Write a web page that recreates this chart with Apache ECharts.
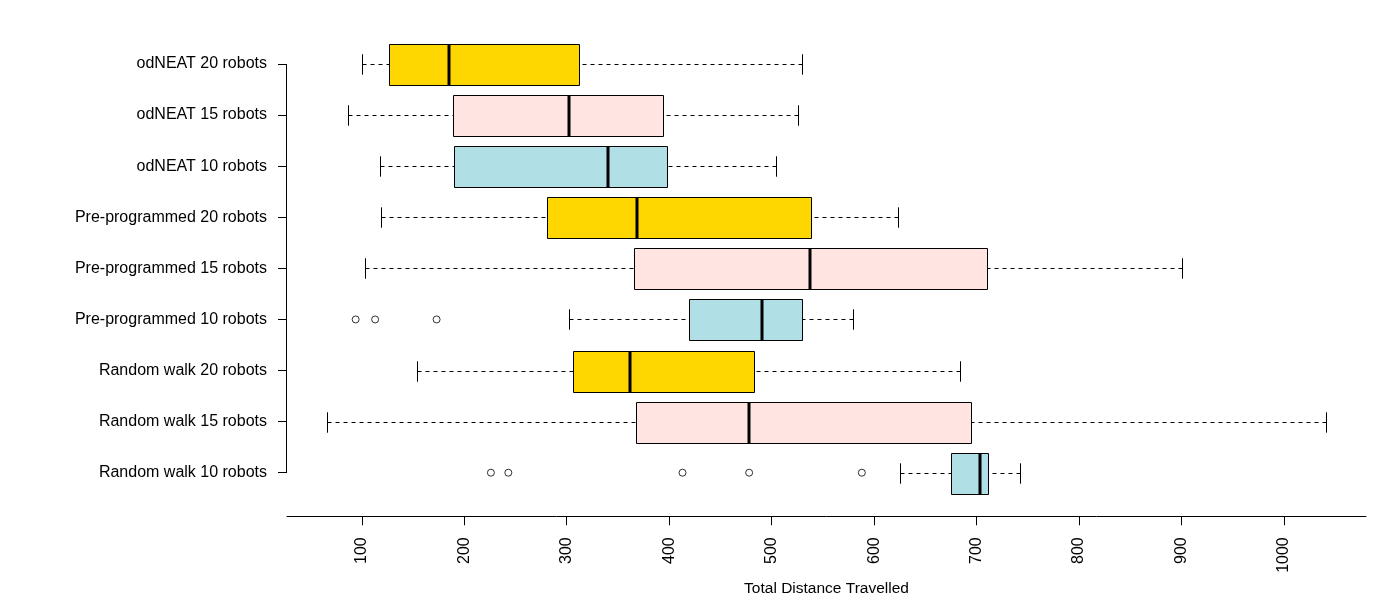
<!DOCTYPE html>
<html><head><meta charset="utf-8">
<script src="https://cdn.jsdelivr.net/npm/echarts@6/dist/echarts.min.js"></script>
<style>html,body{margin:0;padding:0;background:#fff}#c{width:1387px;height:613px}</style>
</head><body><div id="c"></div>
<script>
// Categories, bottom to top
const categories = ['Random walk 10 robots', 'Random walk 15 robots', 'Random walk 20 robots',
  'Pre-programmed 10 robots', 'Pre-programmed 15 robots', 'Pre-programmed 20 robots',
  'odNEAT 10 robots', 'odNEAT 15 robots', 'odNEAT 20 robots'];
const lowWhisker  = [625,  66, 154, 302, 103, 119, 118,  87, 100];
const lowerQuart  = [675, 368, 306, 419, 366, 281, 190, 189, 127];
const medians     = [703, 478, 362, 491, 537, 369, 340, 302, 185];
const upperQuart  = [711, 695, 483, 530, 710, 538, 398, 394, 312];
const highWhisker = [742,1041, 684, 579, 900, 623, 504, 526, 530];
// outliers: value and category index
const outlierValues = [226, 243, 413, 478, 588, 94, 113, 173];
const outlierGroups = [0, 0, 0, 0, 0, 3, 3, 3];
const boxColors = ['#B0E0E6', '#FFE4E1', '#FFD700'];
const xTicks = [100, 200, 300, 400, 500, 600, 700, 800, 900, 1000];
const xTitle = 'Total Distance Travelled';

const allVals = lowWhisker.concat(highWhisker, outlierValues);
const dMin = Math.min.apply(null, allVals), dMax = Math.max.apply(null, allVals);
const ext = (dMax - dMin) * 0.04;
const xMin = dMin - ext, xMax = dMax + ext;

const boxData = categories.map((c, i) => [i, lowWhisker[i], lowerQuart[i], medians[i], upperQuart[i], highWhisker[i]]);
const outData = outlierValues.map((v, i) => [v, outlierGroups[i]]);

const FONT = 'Liberation Sans, Arial, sans-serif';
const chart = echarts.init(document.getElementById('c'), null, {renderer: 'canvas'});
const R = v => Math.round(v) + 0.5;

chart.setOption({
  animation: false,
  backgroundColor: '#fff',
  grid: {left: 287, right: 21, top: 38.45, bottom: 114.75, containLabel: false},
  xAxis: {
    type: 'value', min: xMin, max: xMax, offset: 18,
    axisLine: {show: true, lineStyle: {color: '#000', width: 1}},
    axisTick: {show: true, length: 9, customValues: xTicks, lineStyle: {color: '#000'}},
    axisLabel: {customValues: xTicks, rotate: 90, margin: 21, fontSize: 16, color: '#000', fontFamily: FONT,
      formatter: v => String(v)},
    splitLine: {show: false},
    name: xTitle, nameLocation: 'middle', nameGap: 52,
    nameTextStyle: {fontSize: 15.5, color: '#000', fontFamily: FONT}
  },
  yAxis: {
    type: 'category', data: categories,
    axisLine: {show: false},
    axisTick: {show: true, alignWithLabel: true, length: 9, lineStyle: {color: '#000'}},
    axisLabel: {margin: 20, fontSize: 16, color: '#000', fontFamily: FONT, padding: [3, 0, 0, 0]},
    splitLine: {show: false}
  },
  series: [
    {
      type: 'custom',
      data: [[0], [categories.length - 1]],
      renderItem: function (params, api) {
        if (params.dataIndex !== 0) return null;
        const a = api.coord([xMin, 0]);
        const b = api.coord([xMin, categories.length - 1]);
        return {type: 'line', shape: {x1: R(a[0]) - 1, y1: a[1], x2: R(a[0]) - 1, y2: b[1]},
          style: {stroke: '#000', lineWidth: 1}};
      },
      encode: {y: 0}
    },
    {
      type: 'custom',
      data: boxData,
      encode: {y: 0, x: [1, 2, 3, 4, 5]},
      renderItem: function (params, api) {
        const ci = api.value(0);
        const pLo = api.coord([api.value(1), ci]);
        const pQ1 = api.coord([api.value(2), ci]);
        const pMed = api.coord([api.value(3), ci]);
        const pQ3 = api.coord([api.value(4), ci]);
        const pHi = api.coord([api.value(5), ci]);
        const band = api.size([0, 1])[1];
        const h = band * 0.8;
        const y = R(pLo[1]);
        const cap = h / 4;
        const blk = {stroke: '#000', lineWidth: 1};
        const dash = {stroke: '#000', lineWidth: 1, lineDash: [4, 4]};
        const top = Math.round(y - h / 2) + 0.5;
        const bot = Math.round(y + h / 2) + 0.5;
        return {
          type: 'group',
          children: [
            {type: 'line', shape: {x1: R(pLo[0]), y1: y, x2: R(pQ1[0]), y2: y}, style: dash},
            {type: 'line', shape: {x1: R(pHi[0]), y1: y, x2: R(pQ3[0]), y2: y}, style: dash},
            {type: 'line', shape: {x1: R(pLo[0]), y1: y - cap, x2: R(pLo[0]), y2: y + cap}, style: blk},
            {type: 'line', shape: {x1: R(pHi[0]), y1: y - cap, x2: R(pHi[0]), y2: y + cap}, style: blk},
            {type: 'rect', shape: {x: R(pQ1[0]), y: top, width: R(pQ3[0]) - R(pQ1[0]), height: bot - top},
              style: {fill: boxColors[ci % 3], stroke: '#000', lineWidth: 1}},
            {type: 'line', shape: {x1: Math.round(pMed[0]), y1: top, x2: Math.round(pMed[0]), y2: bot},
              style: {stroke: '#000', lineWidth: 3}}
          ]
        };
      }
    },
    {
      type: 'scatter',
      data: outData,
      symbol: 'circle', symbolSize: 7,
      itemStyle: {color: 'rgba(0,0,0,0)', borderColor: '#000', borderWidth: 1},
      emphasis: {disabled: true}
    }
  ]
});
</script>
</body></html>
